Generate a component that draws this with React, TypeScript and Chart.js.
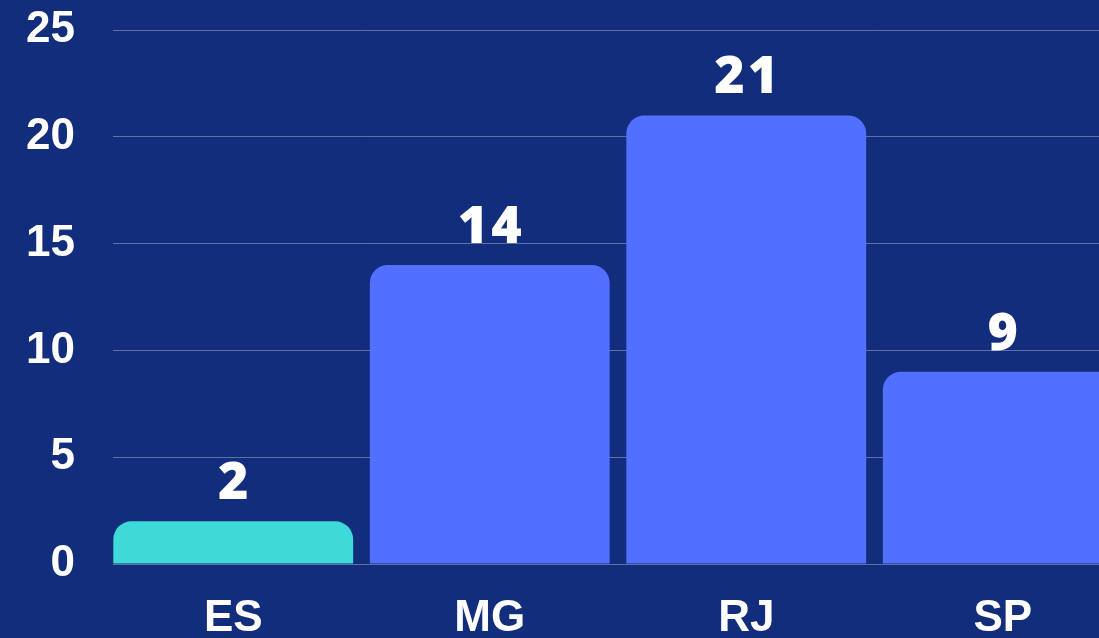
import React, { useEffect, useRef } from "react";
import { Chart, registerables } from "chart.js";

Chart.register(...registerables);

const categories = ["ES", "MG", "RJ", "SP"];
const values = [2, 14, 21, 9];
const barColors = ["#3DDAD7", "#5170FF", "#5170FF", "#5170FF"];
const yMax = 25;
const yStep = 5;
const BG = "#122D7B";

const coverPlugin = {
  id: "gridCover",
  beforeDatasetsDraw(chart: any) {
    const { ctx, chartArea } = chart;
    ctx.save();
    ctx.fillStyle = BG;
    ctx.fillRect(chartArea.left - 1, 0, 9, chartArea.bottom + 2);
    ctx.restore();
  },
};

const labelPlugin = {
  id: "valueLabels",
  afterDatasetsDraw(chart: any) {
    const ctx = chart.ctx;
    const meta = chart.getDatasetMeta(0);
    ctx.save();
    ctx.fillStyle = "#FFFFFF";
    ctx.font = "800 52px 'Open Sans', sans-serif";
    (ctx as any).letterSpacing = "3px";
    ctx.textAlign = "center";
    ctx.textBaseline = "alphabetic";
    meta.data.forEach((el: any, i: number) => {
      ctx.fillText(String(values[i]), el.x + 1.5, el.y - 22);
    });
    ctx.restore();
  },
};

export default function App() {
  const ref = useRef<HTMLCanvasElement>(null);
  useEffect(() => {
    document.body.style.margin = "0";
    document.body.style.overflow = "hidden";
    const chart = new Chart(ref.current!, {
      type: "bar",
      data: {
        labels: categories,
        datasets: [
          {
            data: values,
            backgroundColor: barColors,
            borderRadius: 18,
            borderSkipped: "start",
            barPercentage: 0.935,
            categoryPercentage: 1,
          },
        ],
      },
      options: {
        animation: false,
        responsive: false,
        maintainAspectRatio: false,
        layout: { padding: { top: 30, right: 0, bottom: 0, left: 0 } },
        plugins: { legend: { display: false }, tooltip: { enabled: false } },
        scales: {
          x: {
            grid: { display: false, drawTicks: false },
            border: { display: false },
            ticks: {
              color: "#FFFFFF",
              font: { family: "'Liberation Sans', Arial, sans-serif", size: 44, weight: "bold" },
              padding: 28,
            },
            afterFit: (s: any) => {
              s.height = 74;
              s.paddingLeft = 0;
              s.paddingRight = 0;
            },
          },
          y: {
            min: 0,
            max: yMax,
            ticks: {
              stepSize: yStep,
              color: "#FFFFFF",
              font: { family: "'Liberation Sans', Arial, sans-serif", size: 44, weight: "bold" },
              padding: 30,
            },
            grid: { color: "rgba(255,255,255,0.32)", lineWidth: 1, drawTicks: false },
            border: { display: false },
            afterFit: (s: any) => {
              s.width = 105;
              s.paddingTop = 0;
              s.paddingBottom = 0;
            },
          },
        },
      },
      plugins: [coverPlugin, labelPlugin],
    });
    return () => chart.destroy();
  }, []);
  return (
    <div
      style={{
        position: "fixed",
        left: 0,
        top: 0,
        width: 1099,
        height: 638,
        overflow: "hidden",
        background: BG,
      }}
    >
      <canvas ref={ref} width={1131} height={638} style={{ width: 1131, height: 638, display: "block" }} />
    </div>
  );
}
